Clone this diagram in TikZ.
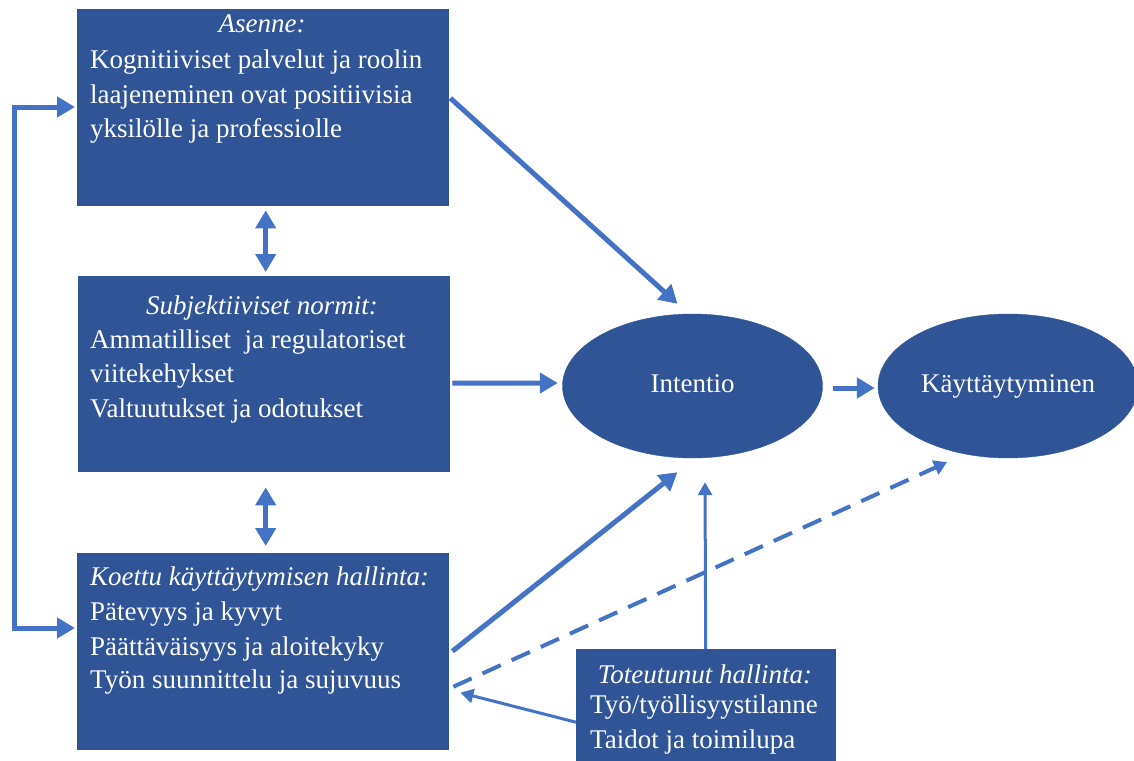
\documentclass[tikz,border=0pt]{standalone}
\usepackage{fontspec}
\setmainfont{Liberation Serif}
\usetikzlibrary{arrows.meta,shapes.geometric}
\definecolor{boxblue}{HTML}{2F5597}
\definecolor{arrblue}{HTML}{4472C4}
\begin{document}
\begin{tikzpicture}[x=1pt,y=-1pt,
  bluebox/.style={draw=boxblue, fill=boxblue, inner sep=0pt, anchor=north west},
  oval/.style={ellipse, draw=boxblue, fill=boxblue, minimum width=260pt, minimum height=144pt, inner sep=0pt, text=white, font=\fontsize{27}{34.5}\selectfont},
  txt/.style={text=white, inner sep=0pt, font=\fontsize{27}{34.5}\selectfont},
  bigarrow/.style={draw=arrblue, line width=5pt, -{Triangle[width=20pt,length=18pt]}},
  twoway/.style={draw=arrblue, line width=5pt, {Triangle[width=20pt,length=18pt]}-{Triangle[width=20pt,length=18pt]}},
  smallarrow/.style={draw=arrblue, line width=3pt, -{Triangle[width=14pt,length=13pt]}},
  dasharrow/.style={draw=arrblue, line width=4pt, dash pattern=on 20pt off 12pt, -{Triangle[width=15pt,length=13pt]}}
]
\useasboundingbox (0,0) rectangle (1134,760);

% boxes
\node[bluebox, minimum width=371pt, minimum height=196pt] (asenne) at (77,9) {};
\node[bluebox, minimum width=371pt, minimum height=195pt] (subj) at (78,276) {};
\node[bluebox, minimum width=371pt, minimum height=196pt] (koettu) at (77,553) {};
\node[bluebox, minimum width=259pt, minimum height=113pt] (tot) at (576,649) {};

% ellipses
\node[oval] (int) at (692.5,386) {};
\node[oval] (kay) at (1008,386) {};
\node[txt, anchor=base] (intt) at (692.5,392) {Intentio};
\node[txt, anchor=base] (kayt) at (1008,392) {Käyttäytyminen};

% texts box 1
\node[txt, anchor=base] (a0) at (262,33) {\itshape Asenne:};
\node[txt, anchor=base west] (a1) at (90,68) {Kognitiiviset palvelut ja roolin};
\node[txt, anchor=base west] (a2) at (90,103) {laajeneminen ovat positiivisia};
\node[txt, anchor=base west] (a3) at (90,137) {yksilölle ja professiolle};

% texts box 2
\node[txt, anchor=base] (s0) at (262,314) {\itshape Subjektiiviset normit:};
\node[txt, anchor=base west] (s1) at (90,348) {Ammatilliset\ \ ja regulatoriset};
\node[txt, anchor=base west] (s2) at (90,382) {viitekehykset};
\node[txt, anchor=base west] (s3) at (90,417) {Valtuutukset ja odotukset};

% texts box 3
\node[txt, anchor=base west] (k0) at (90,585) {\itshape Koettu käyttäytymisen hallinta:};
\node[txt, anchor=base west] (k1) at (90,620) {Pätevyys ja kyvyt};
\node[txt, anchor=base west] (k2) at (90,655) {Päättäväisyys ja aloitekyky};
\node[txt, anchor=base west] (k3) at (90,688) {Työn suunnittelu ja sujuvuus};

% texts box 4
\node[txt, anchor=base] (t0) at (705,683) {\itshape Toteutunut hallinta:};
\node[txt, anchor=base west] (t1) at (590,713) {Työ/työllisyystilanne};
\node[txt, anchor=base west] (t2) at (590,748) {Taidot ja toimilupa};

% left loop
\coordinate (lt) at (14,107);
\coordinate (lb) at (14,628);
\draw[twoway, shorten <=2pt, shorten >=2pt] (asenne.west |- lt) -- (lt) -- (lb) -- (koettu.west |- lb);

% double arrows between boxes
\draw[twoway] ([xshift=3pt,yshift=-5pt]asenne.south) -- ([xshift=2pt,yshift=4pt]subj.north);
\draw[twoway] ([xshift=2pt,yshift=-16pt]subj.south) -- ([xshift=3pt,yshift=7pt]koettu.north);

% arrows to intentio
\draw[bigarrow] ([xshift=2pt,yshift=9pt]asenne.east) -- ([xshift=-15pt,yshift=10pt]int.north);
\draw[bigarrow] ([xshift=3pt,yshift=-9.5pt]subj.east) -- ([xshift=-4.5pt,yshift=3pt]int.west);
\draw[bigarrow] ([xshift=4pt]koettu.east) -- ([xshift=-15pt,yshift=-14pt]int.south);
\draw[bigarrow] ([xshift=10pt,yshift=-2pt]int.east) -- ([xshift=-3pt,yshift=-2pt]kay.west);

% from toteutunut
\draw[smallarrow] (tot.north) -- ([xshift=12.5pt,yshift=-24pt]int.south);
\draw[smallarrow] ([yshift=-16.5pt]tot.west) -- ([xshift=12pt,yshift=-41.5pt]koettu.east);

% dashed
\draw[dasharrow] ([xshift=5pt,yshift=-35.5pt]koettu.east) -- ([xshift=-61pt,yshift=-4pt]kay.south);
\end{tikzpicture}
\end{document}
